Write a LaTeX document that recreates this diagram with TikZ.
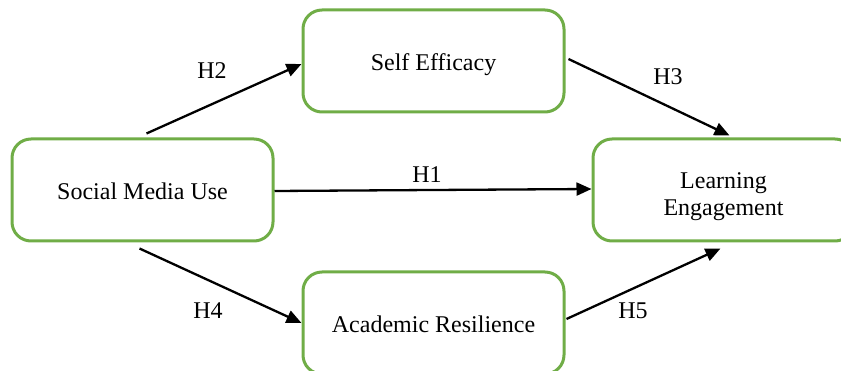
\documentclass[tikz,border=0pt]{standalone}
\usepackage{fontspec}
\setmainfont{Liberation Serif}
\usetikzlibrary{arrows.meta,calc}
\definecolor{boxgreen}{HTML}{70AD47}
\begin{document}
\begin{tikzpicture}[x=1pt,y=-1pt,
  every node/.style={font=\fontsize{24}{27}\selectfont},
  construct/.style={draw=boxgreen, line width=3pt, rounded corners=19pt,
    minimum width=261pt, minimum height=102pt, align=center, inner sep=0pt,
    text height=20pt, text depth=0pt},
  path/.style={draw=black, line width=2.3pt,
    -{Triangle[length=15pt,width=13pt]}},
  hyp/.style={inner sep=0pt}]
  \useasboundingbox (0,0) rectangle (841,371);
  \clip (0,0) rectangle (841,371);

  % constructs
  \node[construct] (sm) at (142.5,190) {Social Media Use};
  \node[construct] (se) at (433.5,61) {Self Efficacy};
  \node[construct, text height=52pt] (le) at (723.5,190) {Learning\\Engagement};
  \node[construct] (ar) at (433.5,323) {Academic Resilience};

  % hypothesised paths
  \draw[path] ([yshift=-1pt]sm.east) -- ([yshift=1pt]le.west);
  \draw[path] ([shift={(4pt,4pt)}]sm.north) -- ([yshift=-3pt]se.west);
  \draw[path] ([shift={(3pt,2pt)}]se.east) -- ([shift={(6pt,2pt)}]le.north);
  \draw[path] ([shift={(-3pt,-6pt)}]sm.south) -- (ar.west);
  \draw[path] ([shift={(1pt,4pt)}]ar.east) -- ([shift={(-3pt,-6pt)}]le.south);

  % path labels
  \node[hyp] (h1) at (427,175) {H1};
  \node[hyp] (h2) at (212,71) {H2};
  \node[hyp] (h3) at (668,77) {H3};
  \node[hyp] (h4) at (208,311) {H4};
  \node[hyp] (h5) at (633,311) {H5};
\end{tikzpicture}
\end{document}
